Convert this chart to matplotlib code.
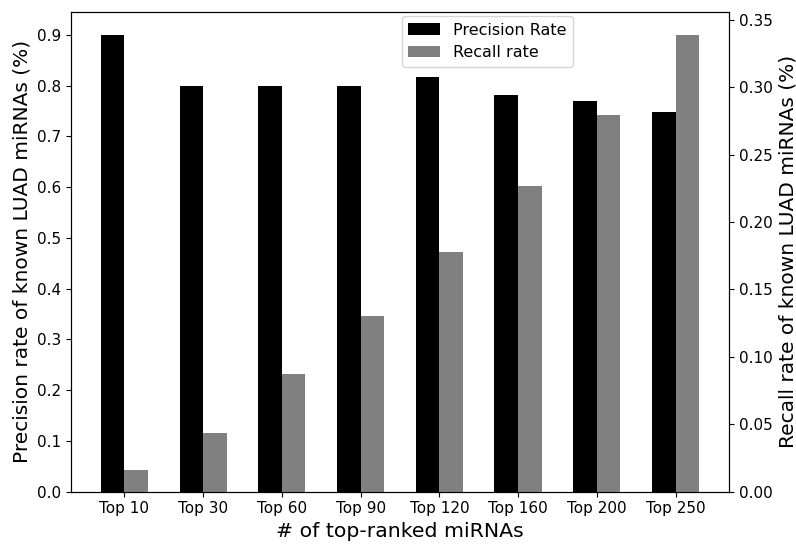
import matplotlib
matplotlib.use("Agg")
import matplotlib.pyplot as plt
import numpy as np

labels = ["Top 10", "Top 30", "Top 60", "Top 90", "Top 120", "Top 160", "Top 200", "Top 250"]
precision = [0.9, 0.8, 0.8, 0.8, 0.8167, 0.78125, 0.77, 0.748]
recall = [0.0163, 0.0435, 0.087, 0.1304, 0.1775, 0.2264, 0.279, 0.3388]

x = np.arange(len(labels))
w = 0.3

fig, ax1 = plt.subplots(figsize=(7.96, 5.44), dpi=100)
fig.subplots_adjust(left=0.089, right=0.916, top=0.978, bottom=0.096)
ax2 = ax1.twinx()

b1 = ax1.bar(x - w / 2, precision, w, color="black", label="Precision Rate")
b2 = ax2.bar(x + w / 2, recall, w, color="gray", label="Recall rate")

ax1.set_xticks(x)
ax1.set_xticklabels(labels)
ax1.set_yticks(np.arange(0, 0.91, 0.1))
ax1.set_xlabel("# of top-ranked miRNAs", fontsize=14.7)
ax1.set_ylabel("Precision rate of known LUAD miRNAs (%)", fontsize=14.5)
ax2.set_ylabel("Recall rate of known LUAD miRNAs (%)", fontsize=14.5)
ax1.tick_params(labelsize=11)
ax2.tick_params(labelsize=11)

ax1.legend(handles=[b1, b2], loc="upper center", bbox_to_anchor=(0.633, 1.008), fontsize=11.5)

plt.savefig("out.png")
